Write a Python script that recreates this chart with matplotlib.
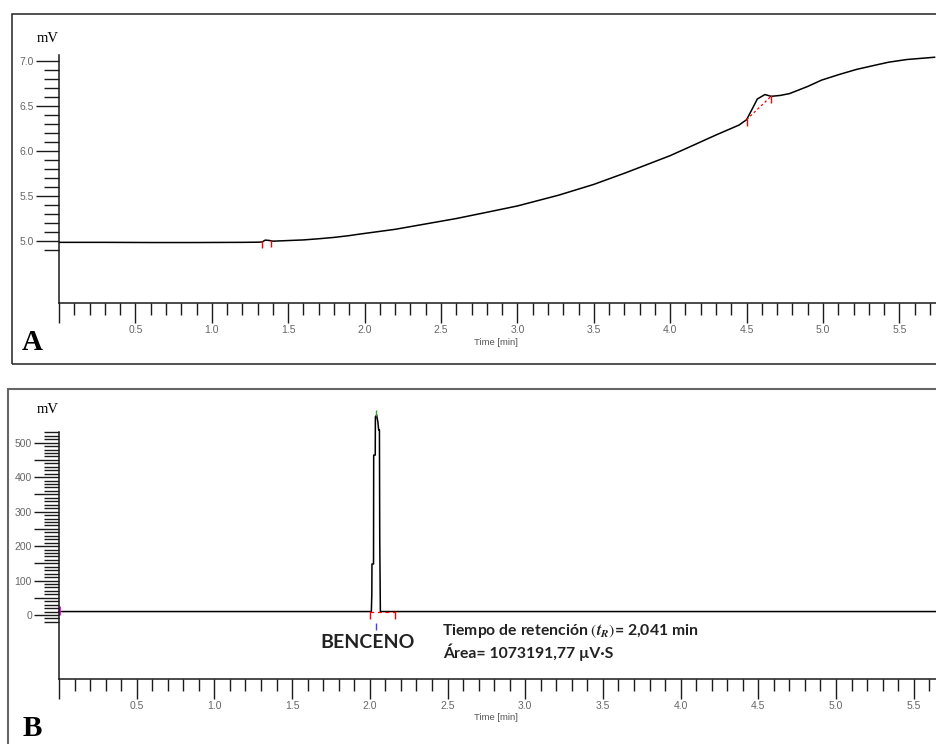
import numpy as np
import matplotlib
matplotlib.use("Agg")
import matplotlib.pyplot as plt
from matplotlib.patches import Rectangle

plt.rcParams['font.family'] = ['Liberation Sans', 'DejaVu Sans']
plt.rcParams['mathtext.fontset'] = 'stix'

# ---- panel A: baseline run (mV vs min)
a_time = [0.0, 0.3, 0.6, 0.9, 1.2, 1.31, 1.33, 1.35, 1.38, 1.40, 1.5, 1.6, 1.7,
          1.8, 1.9, 1.96, 2.2, 2.4, 2.6, 2.83, 3.0, 3.27, 3.5, 3.71, 4.0, 4.17,
          4.3, 4.45, 4.50, 4.54, 4.57, 4.62, 4.66, 4.72, 4.78, 4.9, 4.99, 5.1,
          5.22, 5.35, 5.43, 5.55, 5.73]
a_mv = [4.985, 4.985, 4.983, 4.983, 4.985, 4.987, 4.99, 5.01, 5.005, 4.998,
        5.005, 5.012, 5.025, 5.04, 5.06, 5.075, 5.13, 5.19, 5.25, 5.33, 5.39,
        5.51, 5.63, 5.76, 5.95, 6.08, 6.18, 6.29, 6.35, 6.48, 6.58, 6.63, 6.61,
        6.62, 6.64, 6.72, 6.79, 6.85, 6.91, 6.96, 6.99, 7.02, 7.045]
a_marks = [1.33, 1.39, 4.50, 4.66]
a_mark_mv = [4.99, 5.0, 6.35, 6.61]

# ---- panel B: benzene sample
b_time = [0.0, 2.010, 2.013, 2.014, 2.024, 2.025, 2.035, 2.036, 2.044, 2.052,
          2.057, 2.062, 2.064, 2.068, 5.65]
b_mv = [10, 10, 60, 148, 148, 464, 464, 575, 580, 560, 537, 537, 218, 10, 10]
b_marks = [2.00, 2.165]
b_rt = 2.041

x_major = [0.0, 0.5, 1.0, 1.5, 2.0, 2.5, 3.0, 3.5, 4.0, 4.5, 5.0, 5.5]
x_labels = ['', '0.5', '1.0', '1.5', '2.0', '2.5', '3.0', '3.5', '4.0', '4.5', '5.0', '5.5']
a_yticks = [5.0, 5.5, 6.0, 6.5, 7.0]
a_ylabels = ['5.0', '5.5', '6.0', '6.5', '7.0']
b_yticks = [0, 50, 100, 150, 200, 250, 300, 350, 400, 450, 500]
b_ylabels = ['0', '', '100', '', '200', '', '300', '', '400', '', '500']

W, H = 936, 744
fig = plt.figure(figsize=(W / 100, H / 100), dpi=100)


def fx(px):
    return px / W


def fy(py):
    return 1 - py / H


def make_axes(top, bottom):
    ax = fig.add_axes([fx(59), fy(bottom), 1 - fx(59), fy(top) - fy(bottom)])
    for s in ['top', 'right']:
        ax.spines[s].set_visible(False)
    for s in ['left', 'bottom']:
        ax.spines[s].set_linewidth(1.1)
        ax.spines[s].set_color('#1a1a1a')
    ax.set_xticks(x_major)
    ax.set_xticklabels(x_labels)
    ax.set_xticks(np.arange(0, 5.75, 0.1), minor=True)
    ax.tick_params(axis='x', which='major', length=14.4, width=1.0, pad=1.5,
                   colors='#1a1a1a', labelcolor='#666666', labelsize=7.5)
    ax.tick_params(axis='x', which='minor', length=8.6, width=1.0, colors='#1a1a1a')
    ax.tick_params(axis='y', which='minor', length=10.8, width=1.0, colors='#1a1a1a')
    return ax


# frames round the two panels
fig.add_artist(Rectangle((fx(12), fy(364)), 2, fy(14) - fy(364),
                         transform=fig.transFigure, fill=False, ec='#222222', lw=1.1))
fig.add_artist(Rectangle((fx(8), -0.5), 2, fy(389) + 0.5,
                         transform=fig.transFigure, fill=False, ec='#666666', lw=1.5))

# ---------------- A
ax1 = make_axes(55, 303)
ax1.plot(a_time, a_mv, color='black', lw=1.1)
ax1.set_xlim(0, (W - 59) / 152.8)
ax1.set_ylim(4.31, 7.07)
ax1.set_yticks(a_yticks)
ax1.set_yticklabels(a_ylabels)
ax1.set_yticks(np.arange(4.9, 7.01, 0.1), minor=True)
ax1.tick_params(axis='y', which='major', length=16.6, width=1.0, pad=1.5,
                colors='#1a1a1a', labelcolor='#666666', labelsize=7.5)
ax1.vlines(a_marks, [m - 0.07 for m in a_mark_mv], [m + 0.01 for m in a_mark_mv],
           color='red', lw=1.0)
ax1.plot(a_marks[2:], a_mark_mv[2:], color='red', lw=0.9, ls=(0, (2, 2)))

# ---------------- B
ax2 = make_axes(432, 679)
ax2.plot(b_time, b_mv, color='black', lw=1.1, clip_on=False)
ax2.set_xlim(0, (W - 59) / 155.4)
ax2.set_ylim(-185.7, 531)
ax2.set_yticks(b_yticks)
ax2.set_yticklabels(b_ylabels)
ax2.set_yticks(np.arange(-20, 531, 10), minor=True)
ax2.tick_params(axis='y', which='major', length=18, width=1.0, pad=1.5,
                colors='#1a1a1a', labelcolor='#666666', labelsize=7.5)
ax2.vlines(b_marks, -12, 12, color='red', lw=1.0)
ax2.plot(b_marks, [8, 8], color='red', lw=0.9, ls=(0, (3, 3)))
ax2.vlines([b_rt], -43, -22, color='#4040ff', lw=1.0)
ax2.vlines([b_rt], 578, 594, color='#2ca02c', lw=1.0, clip_on=False)
ax2.vlines([0.003], 0, 25, color='#e000e0', lw=2.0)

# texts
for y_mv, y_time, y_let, let in [(38, 343, 342, 'A'), (410, 718, 728, 'B')]:
    fig.text(fx(48), fy(y_mv), 'mV', family='Liberation Serif', fontsize=10.5,
             ha='center', va='center')
    fig.text(fx(496), fy(y_time), 'Time [min]', fontsize=6.8, color='#555555',
             ha='center', va='center')
    fig.text(fx(32), fy(y_let), let, family='Liberation Serif', fontweight='bold',
             fontsize=21, ha='center', va='center')

fig.text(fx(368), fy(643), 'BENCENO', family='Lato', fontweight='bold',
         fontsize=14, ha='center', va='center', color='#222222')
fig.text(fx(442), fy(631), r'Tiempo de retención $(\mathbfit{t_R})$= 2,041 min',
         family='Lato', fontweight='bold', fontsize=11.3, ha='left', va='center',
         color='#222222')
fig.text(fx(443), fy(652), 'Área= 1073191,77 µV·S', family='Lato',
         fontweight='bold', fontsize=11.3, ha='left', va='center', color='#222222')

fig.savefig('out.png', dpi=100)
